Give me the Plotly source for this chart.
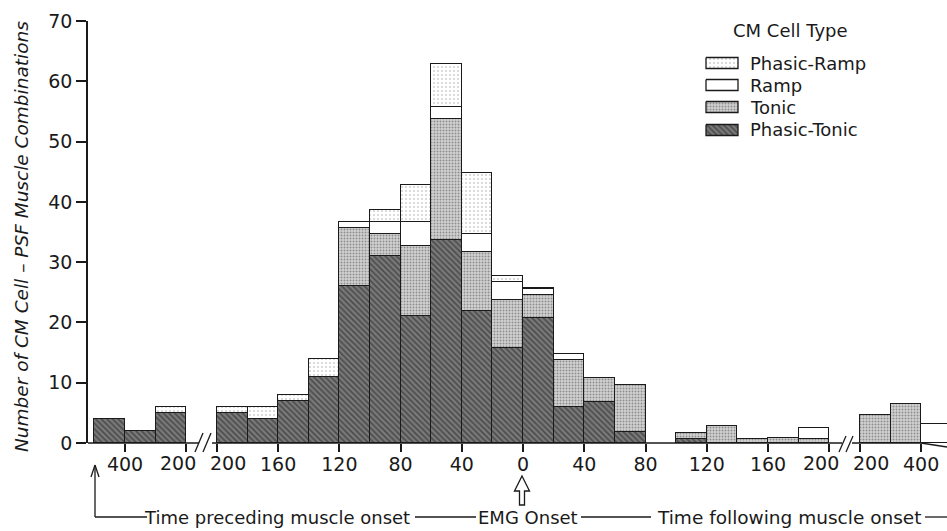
import plotly.graph_objects as go

# ---------------- data ----------------
# slot index of each 20-ms (or 100-ms) bin on the broken time axis
bin_slot = [0, 1, 2, 4, 5, 6, 7, 8, 9, 10, 11, 12, 13, 14, 15, 16, 17, 19, 20, 21, 22, 23, 25, 26, 27]
phasic_tonic = [4, 2, 5, 5, 4, 7, 11, 26, 31, 21, 33.6, 21.9, 15.7, 20.8, 5.9, 6.8, 1.8, 0.7,
                None, None, None, None, None, None, None]
tonic = [None, None, None, None, None, None, None, 9.7, 3.6, 11.6, 20.1, 9.8, 8, 3.8, 7.8, 4, 7.8, 1,
         2.8, 0.7, 0.8, 0.7, 4.7, 6.4, None]
ramp = [None, None, None, None, None, None, None, 1, 2.1, 4.1, 2.1, 2.9, 3, 0.9, 1, None, None, None,
        None, None, None, 1.8, None, None, 3.2]
phasic_ramp = [None, None, 1, 1, 2, 1, 3, None, 2, 6.1, 7.1, 10.2, 1, 0.2, None, None, None, None,
               None, None, None, None, None, None, None]

tick_slot = [1, 3, 4, 6, 8, 10, 12, 14, 16, 18, 20, 22, 24, 25, 27]
tick_text = ["400", "200", "200", "160", "120", "80", "40", "0", "40", "80", "120", "160", "200", "200", "400"]
y_ticks = [0, 10, 20, 30, 40, 50, 60, 70]

series_names = ["Phasic-Tonic", "Tonic", "Ramp", "Phasic-Ramp"]
series_vals = [phasic_tonic, tonic, ramp, phasic_ramp]

# ---------------- styles ----------------
W, H = 947, 531
ML, MR, MT, MB = 88, 0, 21, 88
FONT = "DejaVu Sans"
INK = "#1a1a1a"
TICK_SIZE = 19

styles = {
    "Phasic-Tonic": dict(color="#7a7a7a", pattern=dict(shape="\\", fgcolor="#1e1e1e", bgcolor="#7a7a7a",
                                                      size=4, solidity=0.45)),
    "Tonic": dict(color="#cfcfcf", pattern=dict(shape=".", fgcolor="#4a4a4a", bgcolor="#d2d2d2",
                                               size=3, solidity=0.35)),
    "Ramp": dict(color="white"),
    "Phasic-Ramp": dict(color="white", pattern=dict(shape=".", fgcolor="#9a9a9a", bgcolor="white",
                                                   size=4, solidity=0.18)),
}

fig = go.Figure()
xc = [k + 0.5 for k in bin_slot]
for name, vals in zip(series_names, series_vals):
    st = styles[name]
    marker = dict(color=st["color"], line=dict(color=INK, width=1.5))
    if "pattern" in st:
        marker["pattern"] = st["pattern"]
    fig.add_trace(go.Bar(x=xc, y=vals, width=1, name=name, marker=marker, showlegend=False))

# pixel helpers for decorations
def px(x):
    return (x - ML) / (W - ML - MR)

def py(y):
    return (H - MB - y) / (H - MT - MB)

# slot axis mapping: slot k boundary at pixel 94.4 + 30.62*k
S0, SW = 94.4, 30.62
x_range = [(ML - S0) / SW, (W - MR - S0) / SW]

annotations = []

# tick labels either side of an axis break are nudged apart (as in the original):
# they are drawn as annotations anchored on the x axis, the rest as normal tick labels
shown_ticks = list(tick_text)
nudge = {}
for i in range(len(tick_slot) - 1):
    if tick_slot[i + 1] - tick_slot[i] == 1:
        nudge[i] = -8
        nudge[i + 1] = 11
for i, shift in nudge.items():
    shown_ticks[i] = ""
    annotations.append(dict(text=tick_text[i], x=tick_slot[i], xref="x", y=py(463), yref="paper",
                            xshift=shift, xanchor="center", yanchor="middle", showarrow=False,
                            font=dict(family=FONT, size=TICK_SIZE, color=INK)))

# ---------------- legend (overlay pixel axes) ----------------
legend_rows = [("Phasic-Ramp", 63), ("Ramp", 85), ("Tonic", 107), ("Phasic-Tonic", 130)]
for name, yc in legend_rows:
    st = styles[name]
    kw = dict(fillcolor=st["color"])
    if "pattern" in st:
        kw["fillpattern"] = dict(st["pattern"])
    fig.add_trace(go.Scatter(
        x=[706, 738, 738, 706, 706], y=[yc - 5.5, yc - 5.5, yc + 5.5, yc + 5.5, yc - 5.5],
        mode="lines", fill="toself", line=dict(color=INK, width=1.3),
        xaxis="x2", yaxis="y2", showlegend=False, hoverinfo="skip", **kw))

def label(text, x, y, size=18, xanchor="center", angle=0):
    annotations.append(dict(text=text, x=px(x), y=py(y), xref="paper", yref="paper",
                            xanchor=xanchor, yanchor="middle", showarrow=False, textangle=angle,
                            font=dict(family=FONT, size=size, color=INK)))

label("CM Cell Type", 790, 30, size=18)
for name, yc in legend_rows:
    label(name, 748, yc, xanchor="left")

# y title
label("<i>Number of CM Cell – PSF Muscle Combinations</i>", 22, 237, size=18.5, angle=-90)

# bottom texts
label("Time preceding muscle onset", 412, 517, xanchor="right")
label("EMG Onset", 528, 517)
label("Time following muscle onset", 655, 517, size=18.5, xanchor="left")

shapes = []
def seg(x0, y0, x1, y1, w=1.5):
    shapes.append(dict(type="line", xref="paper", yref="paper", x0=px(x0), y0=py(y0), x1=px(x1),
                       y1=py(y1), line=dict(color=INK, width=w)))

# broken x baseline
seg(88, 443, 199, 443)
seg(212, 443, 842, 443)
seg(852, 443, 921, 443)
seg(921, 443, 947, 447)
# break marks
seg(195, 452, 203, 433, 1.3)
seg(203, 452, 211, 433, 1.3)
seg(839, 452, 846, 436, 1.3)
seg(846, 452, 853, 436, 1.3)
# left bracket with arrow
seg(95, 517, 95, 466, 1.3)
seg(95, 517, 147, 517, 1.3)
seg(91, 477, 95, 465, 1.3)
seg(99, 477, 95, 465, 1.3)
# connecting lines
seg(415, 517, 476, 517, 1.3)
seg(581, 517, 651, 517, 1.3)
seg(925, 517, 947, 517, 1.3)
# hollow EMG arrow
pts = [(522, 476), (529.5, 491), (524.5, 491), (524.5, 505), (519.5, 505), (519.5, 491), (514.5, 491)]
path = "M " + " L ".join(f"{px(a):.5f},{py(b):.5f}" for a, b in pts) + " Z"
shapes.append(dict(type="path", xref="paper", yref="paper", path=path,
                   line=dict(color=INK, width=1.3), fillcolor="white"))

fig.update_layout(
    width=W, height=H, margin=dict(l=ML, r=MR, t=MT, b=MB, pad=0, autoexpand=False),
    barmode="stack", bargap=0,
    paper_bgcolor="white", plot_bgcolor="white",
    font=dict(family=FONT, color=INK),
    xaxis=dict(range=x_range, tickmode="array", tickvals=tick_slot, ticktext=shown_ticks,
               tickangle=0, automargin=False, ticklabelstandoff=-4,
               ticks="outside", ticklen=8, tickwidth=1.5, tickcolor=INK, showline=False,
               showgrid=False, zeroline=False, tickfont=dict(family=FONT, size=TICK_SIZE, color=INK)),
    yaxis=dict(range=[0, 70], tickmode="array", tickvals=y_ticks, ticks="outside", ticklen=10,
               automargin=False,
               tickwidth=1.5, tickcolor=INK, showline=True, linecolor=INK, linewidth=1.5,
               showgrid=False, zeroline=False, tickfont=dict(family=FONT, size=TICK_SIZE, color=INK)),
    xaxis2=dict(overlaying="x", anchor="y2", range=[ML, W - MR], visible=False),
    yaxis2=dict(overlaying="y", anchor="x2", range=[H - MB, MT], visible=False),
    annotations=annotations, shapes=shapes, showlegend=False,
)

fig.write_html("out.html")
